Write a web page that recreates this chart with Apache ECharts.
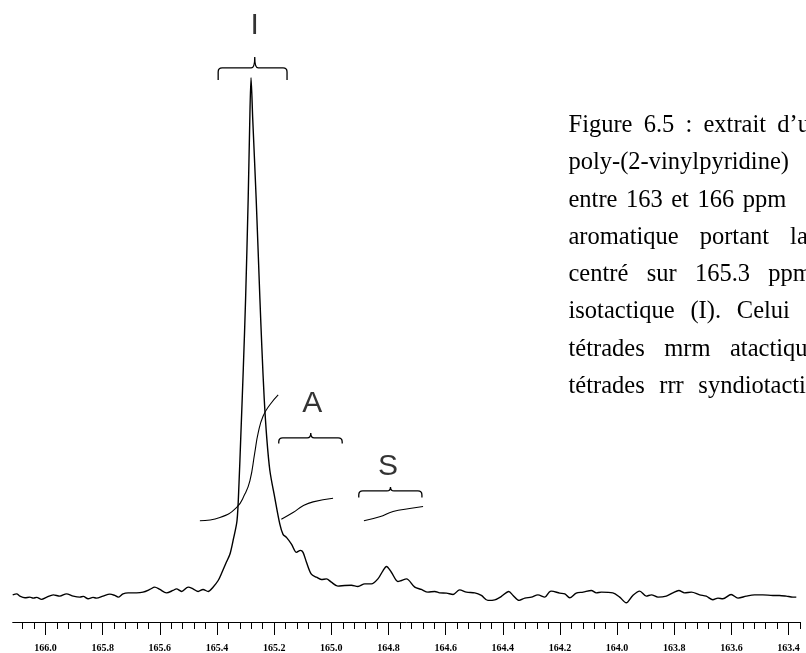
<!DOCTYPE html>
<html>
<head>
<meta charset="utf-8">
<script src="https://cdn.jsdelivr.net/npm/echarts@6/dist/echarts.min.js"></script>
<style>
html,body{margin:0;padding:0;background:#fff;}
#chart{width:806px;height:653px;}
</style>
</head>
<body>
<div id="chart"></div>
<script>
// ---- spectrum (ppm, intensity above baseline) ----
const specPpm = [166.115,166.101,166.090,166.072,166.055,166.043,166.031,166.014,165.997,165.973,
  165.950,165.927,165.903,165.880,165.868,165.851,165.834,165.822,165.799,165.775,
  165.758,165.746,165.729,165.711,165.682,165.659,165.635,165.618,165.600,165.577,
  165.554,165.542,165.524,165.501,165.484,165.466,165.449,165.431,165.414,165.396,
  165.384,165.369,165.355,165.343,165.330,165.323,165.317,165.308,165.300,165.291,
  165.286,165.281,165.275,165.263,165.250,165.243,165.235,165.226,165.215,165.198,
  165.180,165.169,165.157,165.139,165.122,165.108,165.099,165.087,165.070,165.052,
  165.035,165.017,165.000,164.977,164.953,164.930,164.907,164.883,164.860,164.837,
  164.819,164.807,164.790,164.767,164.755,164.737,164.708,164.685,164.662,164.638,
  164.621,164.597,164.574,164.551,164.527,164.498,164.475,164.452,164.428,164.405,
  164.379,164.364,164.343,164.323,164.300,164.277,164.253,164.238,164.230,164.201,
  164.183,164.166,164.143,164.119,164.090,164.073,164.055,164.015,163.991,163.968,
  163.945,163.921,163.898,163.880,163.857,163.828,163.805,163.784,163.764,163.740,
  163.711,163.688,163.665,163.647,163.630,163.601,163.577,163.548,163.519,163.490,
  163.455,163.432,163.408,163.385,163.373];
const specInt = [2.3,3.3,1,-0.7,0,-1,-0.3,-2.3,-0.3,2.3,
  1,3.3,1,0,0.7,-1.7,-0.3,-1,1,3,
  1.7,0,3.3,4.3,4.3,5,7.7,10,7.7,4.3,
  6.7,8.3,5.7,10,8.3,5.7,7.7,5.7,10,16.7,
  24,34,43,58,77,115,160,230,300,400,
  470,522,480,400,300,250,200,160,127,100,
  73,63,60,53,45,47,45,35,23,20,
  17.7,18.3,15,11,11.7,12,10.7,13.3,13.3,18.3,
  26.7,30.7,25,15.7,16.7,18.3,10,7.7,5,5.7,
  4.3,4,2.7,7.3,5,4.3,1.7,-3.3,-2.7,0.7,
  5.7,1.7,-3.3,-1,0,2.3,0,5,6,4,
  3.3,-0.7,4,5,6.7,4.3,5,4.3,0,-5.7,
  1.7,6,1,2.3,0,1,4.3,6.7,4.3,5,
  2.3,1,-2.7,-1,-1.7,2.7,-1,1,2.3,2.3,
  1.7,1.7,1,0,0];

// ---- integral curves ----
const integIPpm = [165.460,165.390,165.332,165.303,165.285,165.268,165.256,165.239,165.215,165.186];
const integIVal = [76.7,80,90,103.3,116.7,145,165,181.7,193.3,203.3];
const integAPpm = [165.175,165.134,165.099,165.064,164.994];
const integAVal = [78.3,85,91.7,95.7,99.3];
const integSPpm = [164.886,164.831,164.784,164.726,164.679];
const integSVal = [76.7,80.7,86,89,91];

// ---- braces and their letters ----
const braceStart = [165.396,165.184,164.904];
const braceEnd   = [165.155,164.962,164.683];
const braceTip   = [165.268,165.072,164.793];
const braceLevel = [531.7,160,106.7];
const labelNames = ['I','A','S'];
const labelPpm   = [165.268,165.067,164.802];
const labelInt   = [574,194,131];

// ---- axis ticks ----
const majorTicks = [166.0,165.8,165.6,165.4,165.2,165.0,164.8,164.6,164.4,164.2,164.0,163.8,163.6,163.4];
const majorTickLabels = ['166.0','165.8','165.6','165.4','165.2','165.0','164.8','164.6','164.4','164.2','164.0','163.8','163.6','163.4'];

// ---- caption text (lines, words) ----
const captionLines = [
  ['Figure','6.5',':','extrait','d\u2019un'],
  ['poly-(2-vinylpyridine)'],
  ['entre','163','et','166','ppm'],
  ['aromatique','portant','la'],
  ['centr\u00e9','sur','165.3','ppm'],
  ['isotactique','(I).','Celui'],
  ['t\u00e9trades','mrm','atactiques'],
  ['t\u00e9trades','rrr','syndiotactiques']
];

// minor ticks every 0.04 ppm (axis decoration)
const minorTicks = [];
for (let k = 4084; k <= 4152; k++) {
  if (k % 5 !== 0) minorTicks.push(+(k * 0.04).toFixed(2));
}

const zip = (a, b) => a.map((v, i) => [v, b[i]]);

// caption layout
const captionFont = '24.5px "Liberation Serif"';
const captionX = 568.5;
const captionY0 = 125.5, captionDy = 37.3;
const captionGap = [11.2, 0, 8.5, 21, 18.3, 15.8, 19.5, 14.6];
const mctx = document.createElement('canvas').getContext('2d');
mctx.font = captionFont;
const graphics = [];
captionLines.forEach((words, li) => {
  let x = captionX;
  words.forEach(w => {
    graphics.push({
      type: 'text', x: x, y: captionY0 + li * captionDy,
      style: { text: w, font: captionFont, fill: '#000', verticalAlign: 'middle', align: 'left' },
      silent: true
    });
    x += mctx.measureText(w).width + captionGap[li];
  });
});

const hookLen = [12, 5.5, 6.5];
const tipLen = [11, 5, 4];

const chart = echarts.init(document.getElementById('chart'), null, { renderer: 'canvas' });
chart.setOption({
  animation: false,
  backgroundColor: '#ffffff',
  grid: { left: 12.7, right: 6, top: 0, bottom: 28, containLabel: false },
  xAxis: [
    {
      type: 'value', min: 163.36, max: 166.115, inverse: true,
      axisLine: { show: true, onZero: false, lineStyle: { color: '#000', width: 1 } },
      axisTick: { show: true, customValues: majorTicks, length: 13, lineStyle: { color: '#000', width: 1 } },
      axisLabel: {
        show: true, customValues: majorTicks,
        formatter: v => majorTickLabels[majorTicks.findIndex(t => Math.abs(t - v) < 1e-6)] || '',
        fontFamily: '"Liberation Serif"', fontWeight: 'bold', fontSize: 10, color: '#000', margin: 21
      },
      splitLine: { show: false }
    },
    {
      type: 'value', min: 163.36, max: 166.115, inverse: true, position: 'bottom', offset: 0,
      axisLine: { show: false, onZero: false },
      axisTick: { show: true, customValues: minorTicks, length: 7, lineStyle: { color: '#000', width: 1 } },
      axisLabel: { show: false },
      splitLine: { show: false }
    }
  ],
  yAxis: { type: 'value', min: -25, max: 600, show: false },
  graphic: graphics,
  series: [
    {
      type: 'line', xAxisIndex: 0, data: zip(specPpm, specInt), smooth: 0.3,
      showSymbol: false, symbol: 'none', lineStyle: { color: '#000', width: 1.4 }, z: 3
    },
    {
      type: 'line', xAxisIndex: 0, data: zip(integIPpm, integIVal), smooth: true,
      symbol: 'none', lineStyle: { color: '#000', width: 1.1 }
    },
    {
      type: 'line', xAxisIndex: 0, data: zip(integAPpm, integAVal), smooth: true,
      symbol: 'none', lineStyle: { color: '#000', width: 1.1 }
    },
    {
      type: 'line', xAxisIndex: 0, data: zip(integSPpm, integSVal), smooth: true,
      symbol: 'none', lineStyle: { color: '#000', width: 1.1 }
    },
    {
      type: 'custom', xAxisIndex: 0, coordinateSystem: 'cartesian2d',
      data: braceStart.map((s, i) => [s, braceEnd[i], braceTip[i], braceLevel[i]]),
      encode: { x: [0, 1, 2], y: 3 },
      renderItem: function (params, api) {
        const i = params.dataIndex;
        const a = api.coord([api.value(0), api.value(3)]);
        const b = api.coord([api.value(1), api.value(3)]);
        const t = api.coord([api.value(2), api.value(3)]);
        const x0 = Math.min(a[0], b[0]), x1 = Math.max(a[0], b[0]);
        const y = a[1], xt = t[0];
        const h = hookLen[i], th = tipLen[i], r = 4, r2 = 3.5;
        const d = 'M' + x0 + ' ' + (y + h) + ' L' + x0 + ' ' + (y + r) +
          ' Q' + x0 + ' ' + y + ' ' + (x0 + r) + ' ' + y +
          ' L' + (xt - r2) + ' ' + y +
          ' Q' + xt + ' ' + y + ' ' + xt + ' ' + (y - th) +
          ' Q' + xt + ' ' + y + ' ' + (xt + r2) + ' ' + y +
          ' L' + (x1 - r) + ' ' + y +
          ' Q' + x1 + ' ' + y + ' ' + x1 + ' ' + (y + r) +
          ' L' + x1 + ' ' + (y + h);
        return {
          type: 'path', shape: { pathData: d },
          style: { stroke: '#000', fill: 'none', lineWidth: 1.3 }
        };
      },
      silent: true, z: 4
    },
    {
      type: 'scatter', xAxisIndex: 0, symbolSize: 0,
      data: labelNames.map((n, i) => ({ name: n, value: [labelPpm[i], labelInt[i]] })),
      label: {
        show: true, position: 'inside', formatter: p => p.name,
        fontFamily: '"Liberation Sans"', fontSize: 30, color: '#000'
      },
      silent: true, z: 5
    }
  ]
});
</script>
</body>
</html>
